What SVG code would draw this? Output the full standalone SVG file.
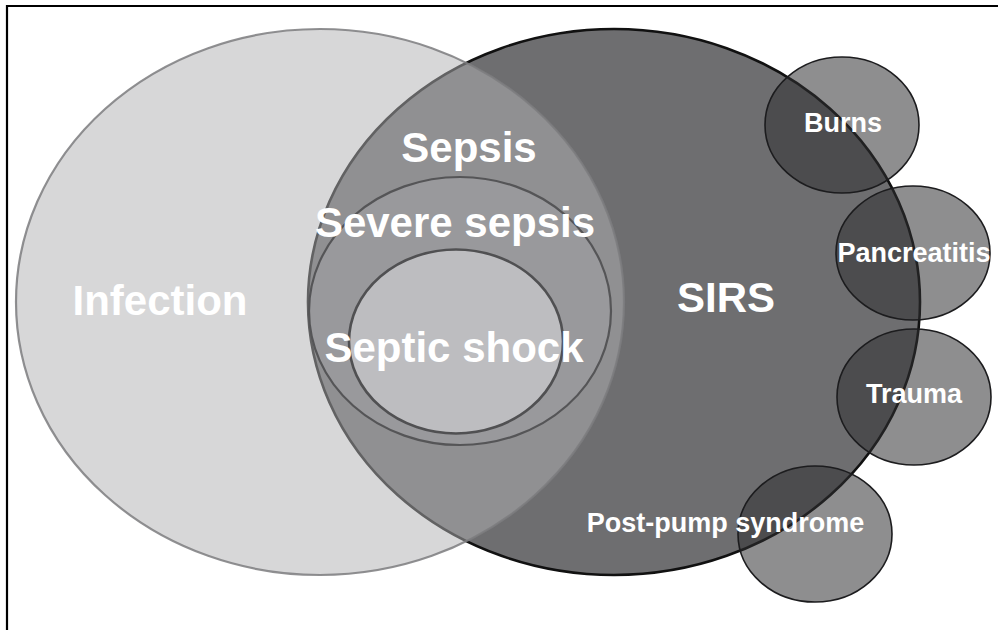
<svg xmlns="http://www.w3.org/2000/svg" width="998" height="630" viewBox="0 0 998 630">
  <style>
    .big { font-family: "Liberation Sans", Arial, sans-serif; font-weight: bold; font-size: 42px; fill: #ffffff; text-anchor: middle; }
    .small { font-family: "Liberation Sans", Arial, sans-serif; font-weight: bold; font-size: 27px; fill: #ffffff; text-anchor: middle; }
    .sat { fill: #303032; fill-opacity: 0.545; stroke: #1c1c1e; stroke-width: 1.6; }
  </style>
  <rect width="998" height="630" fill="#ffffff"/>
  <path d="M7,640 V6 H1005" fill="none" stroke="#000000" stroke-width="2.2"/>

  <g id="sirs">
    <ellipse cx="614" cy="302" rx="306" ry="273" fill="#6e6e70" stroke="#111111" stroke-width="2.6"/>
  </g>
  <g id="infection">
    <ellipse cx="320" cy="302" rx="304" ry="273" fill="#b0b0b2" fill-opacity="0.51" stroke="#7c7c7f" stroke-width="2.2" stroke-opacity="0.85"/>
  </g>
  <g id="severe-sepsis">
    <ellipse cx="460" cy="311" rx="151" ry="134" fill="#99999c" stroke="#555557" stroke-width="2.2"/>
  </g>
  <g id="septic-shock">
    <ellipse cx="456" cy="341.5" rx="107" ry="92" fill="#bdbdc0" stroke="#505052" stroke-width="2.6"/>
  </g>
  <g id="burns">
    <ellipse class="sat" cx="842" cy="125" rx="77" ry="68"/>
  </g>
  <g id="pancreatitis">
    <ellipse class="sat" cx="913" cy="253" rx="77" ry="67"/>
  </g>
  <g id="trauma">
    <ellipse class="sat" cx="914" cy="397" rx="77" ry="68"/>
  </g>
  <g id="post-pump">
    <ellipse class="sat" cx="815" cy="534" rx="77" ry="68"/>
  </g>

  <g id="labels">
    <text class="big" x="160" y="315">Infection</text>
    <text class="big" x="469" y="162">Sepsis</text>
    <text class="big" x="455" y="237">Severe sepsis</text>
    <text class="big" x="454" y="362">Septic shock</text>
    <text class="big" x="726" y="312">SIRS</text>
    <text class="small" x="843" y="132">Burns</text>
    <text class="small" x="914" y="262">Pancreatitis</text>
    <text class="small" x="914" y="403">Trauma</text>
    <text class="small" x="725.5" y="532">Post-pump syndrome</text>
  </g>
</svg>
